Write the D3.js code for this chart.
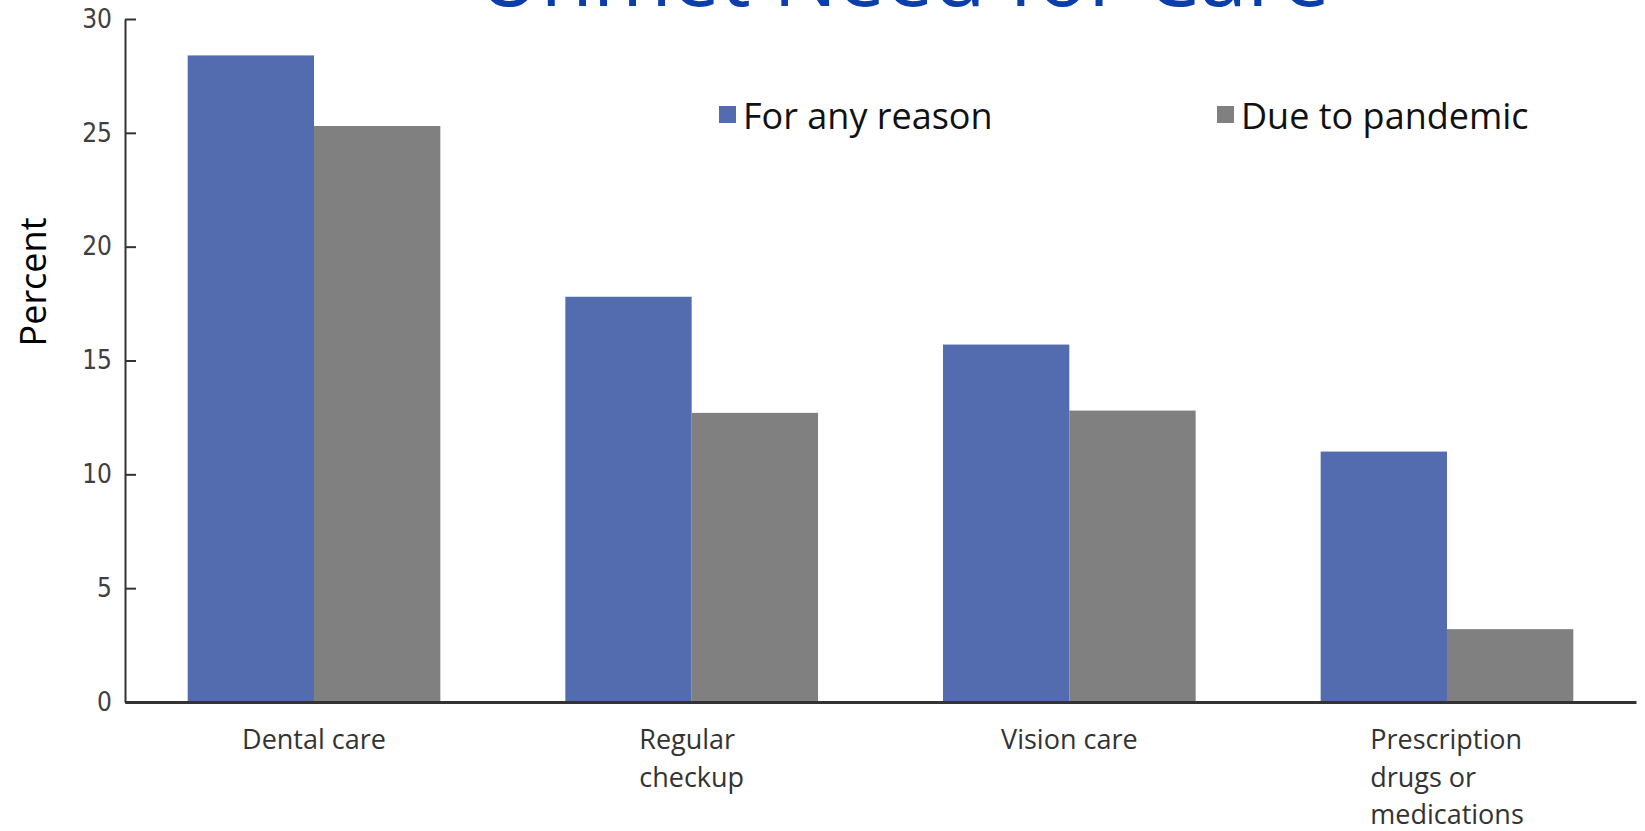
<!DOCTYPE html>
<html>
<head>
<meta charset="utf-8">
<script src="https://cdn.jsdelivr.net/npm/d3@7"></script>
<style>
  body { margin: 0; background: #fff; }
  svg { display: block; }
</style>
</head>
<body>
<div id="chart"></div>
<script>
const categories = ['Dental care', 'Regular checkup', 'Vision care', 'Prescription drugs or medications'];
const categoryLines = [['Dental care'], ['Regular', 'checkup'], ['Vision care'], ['Prescription', 'drugs or', 'medications']];
const seriesNames = ['For any reason', 'Due to pandemic'];
const forAnyReason = [28.4, 17.8, 15.7, 11.0];
const dueToPandemic = [25.3, 12.7, 12.8, 3.2];
const yTicks = [0, 5, 10, 15, 20, 25, 30];

const width = 1645;
const height = 831;
const margin = { top: 19, right: 9, bottom: 129, left: 125 };
const colors = ['#526caf', '#7f807f'];

const svg = d3.select('#chart')
  .append('svg')
  .attr('width', width)
  .attr('height', height);

// title sits mostly above the visible area, only its bottom shows
svg.append('text')
  .attr('x', 478)
  .attr('y', 6)
  .attr('textLength', 852)
  .attr('lengthAdjust', 'spacingAndGlyphs')
  .attr('font-family', 'Open Sans')
  .attr('font-size', 85)
  .attr('fill', '#0b3ea8')
  .text('Unmet Need for Care');

const x0 = d3.scaleBand()
  .domain(categories)
  .range([margin.left, width - margin.right])
  .paddingInner(0.331)
  .paddingOuter(0.166);

const x1 = d3.scaleBand()
  .domain(seriesNames)
  .range([0, x0.bandwidth()]);

const y = d3.scaleLinear()
  .domain([0, 30])
  .range([height - margin.bottom, margin.top]);

const rows = categories.map((c, i) => ({ category: c, values: [forAnyReason[i], dueToPandemic[i]] }));

svg.append('g')
  .selectAll('g')
  .data(rows)
  .join('g')
  .attr('transform', (d) => `translate(${x0(d.category)},0)`)
  .selectAll('rect')
  .data((d) => d.values.map((v, j) => ({ key: seriesNames[j], value: v, j })))
  .join('rect')
  .attr('x', (d) => x1(d.key))
  .attr('y', (d) => y(d.value))
  .attr('width', x1.bandwidth())
  .attr('height', (d) => y(0) - y(d.value))
  .attr('fill', (d) => colors[d.j]);

// y axis, ticks pointing into the plot
const yAxis = svg.append('g')
  .attr('transform', `translate(${margin.left},0)`)
  .call(d3.axisLeft(y).tickValues(yTicks).tickSizeInner(-11).tickSizeOuter(0).tickPadding(13));
yAxis.select('.domain').attr('stroke', '#333').attr('stroke-width', 2);
yAxis.selectAll('.tick line').attr('stroke', '#333').attr('stroke-width', 2);
yAxis.selectAll('.tick text')
  .attr('font-family', '"DejaVu Sans Condensed", "DejaVu Sans"')
  .attr('font-size', 26)
  .attr('fill', '#404040');

// x axis
const xAxis = svg.append('g')
  .attr('transform', `translate(0,${height - margin.bottom})`)
  .call(d3.axisBottom(x0).tickSize(0).tickSizeOuter(0).tickFormat(''));
xAxis.select('.domain').attr('stroke', '#333').attr('stroke-width', 3);

xAxis.selectAll('.tick').each(function (d, i) {
  const t = d3.select(this).append('text')
    .attr('font-family', 'Open Sans')
    .attr('font-size', 27)
    .attr('fill', '#333')
    .attr('text-anchor', 'start');
  const spans = t.selectAll('tspan')
    .data(categoryLines[i])
    .join('tspan')
    .attr('dy', (l, k) => (k === 0 ? 47 : 37.5))
    .text((l) => l);
  let w = 0;
  spans.each(function () { w = Math.max(w, this.getComputedTextLength()); });
  spans.attr('x', -w / 2);
});

// y label
svg.append('text')
  .attr('transform', 'translate(46,282) rotate(-90)')
  .attr('text-anchor', 'middle')
  .attr('font-family', 'Open Sans')
  .attr('font-size', 36)
  .attr('fill', '#000')
  .text('Percent');

// legend
const legendX = [719, 1217];
const legend = svg.append('g')
  .selectAll('g')
  .data(seriesNames)
  .join('g')
  .attr('transform', (d, i) => `translate(${legendX[i]},106)`);
legend.append('rect')
  .attr('width', 17)
  .attr('height', 17)
  .attr('fill', (d, i) => colors[i]);
legend.append('text')
  .attr('x', 24)
  .attr('y', 23)
  .attr('font-family', 'Open Sans')
  .attr('font-size', 36)
  .attr('fill', '#111')
  .text((d) => d);
</script>
</body>
</html>
